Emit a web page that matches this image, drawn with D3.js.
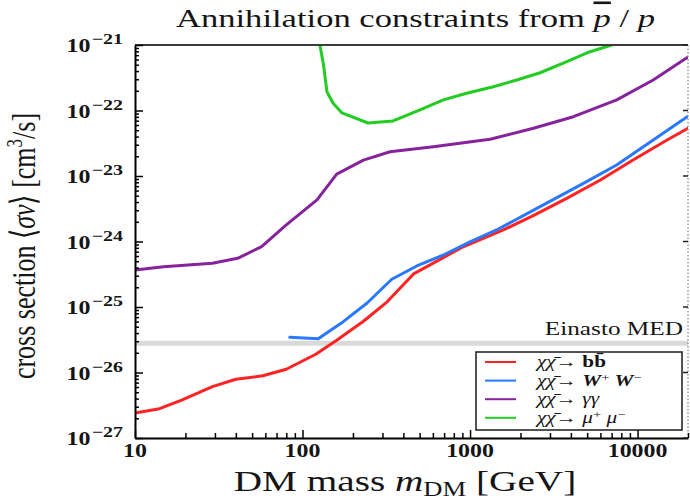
<!DOCTYPE html>
<html>
<head>
<meta charset="utf-8">
<script src="https://cdn.jsdelivr.net/npm/d3@7/dist/d3.min.js"></script>
<style>
  body { margin: 0; background: #fff; }
  svg { display: block; }
  text { font-family: "Liberation Serif", "Times New Roman", serif; fill: #151515; }
</style>
</head>
<body>
<svg id="chart" width="690" height="500"></svg>
<script>
// Upper limits on <sigma v> (cm^3/s) versus DM mass (GeV), one pair of arrays per channel
const massBB  = [10, 14, 19, 29, 40, 58, 80, 120, 160, 230, 320, 460, 910, 1580, 2400, 3800, 6000, 9400, 15000, 20000];
const sigmaBB = [2.4e-27, 2.8e-27, 3.8e-27, 6.1e-27, 7.9e-27, 8.9e-27, 1.12e-26, 1.9e-26, 3.1e-26, 6.0e-26, 1.2e-25, 3.2e-25, 8.3e-25, 1.5e-24, 2.5e-24, 4.6e-24, 8.7e-24, 1.75e-23, 3.55e-23, 5.35e-23];

const massWW  = [84, 124, 175, 242, 341, 481, 693, 1000, 1440, 2620, 4750, 7500, 12400, 20000];
const sigmaWW = [3.44e-26, 3.28e-26, 5.97e-26, 1.14e-25, 2.65e-25, 4.23e-25, 6.22e-25, 9.9e-25, 1.5e-24, 3.4e-24, 7.7e-24, 1.47e-23, 3.55e-23, 8.2e-23];

const massGG  = [10, 14.8, 29, 41, 57, 80, 122, 160, 231, 333, 604, 1316, 2390, 4140, 7510, 12400, 20000];
const sigmaGG = [3.67e-25, 4.12e-25, 4.64e-25, 5.54e-25, 8.34e-25, 1.79e-24, 4.31e-24, 1.07e-23, 1.75e-23, 2.35e-23, 2.8e-23, 3.63e-23, 5.35e-23, 8.04e-23, 1.45e-22, 2.92e-22, 6.56e-22];

const massMM  = [127, 133.5, 140, 152, 172, 246, 347, 503, 693, 955, 1377, 1900, 2620, 3780, 5200, 7010];
const sigmaMM = [1e-21, 4.95e-22, 1.91e-22, 1.3e-22, 9.17e-23, 6.44e-23, 6.92e-23, 1.02e-22, 1.45e-22, 1.83e-22, 2.31e-22, 2.92e-22, 3.77e-22, 5.56e-22, 7.9e-22, 1e-21];

// Thermal-relic reference level for the Einasto MED setup
const einastoMED = 2.8e-26;
const einastoLabel = "Einasto MED";

const xTickValues = [10, 100, 1000, 10000];
const xTickLabels = ["10", "100", "1000", "10000"];
const yTickValues = [1e-27, 1e-26, 1e-25, 1e-24, 1e-23, 1e-22, 1e-21];
const yTickExponents = ["\u221227", "\u221226", "\u221225", "\u221224", "\u221223", "\u221222", "\u221221"];

const channelColors = ["#ff2323", "#2a78ff", "#86239c", "#22cc22"];

// ---------------------------------------------------------------
const svg = d3.select("#chart");
const plotL = 135, plotR = 688, plotT = 45, plotB = 438;
const x = d3.scaleLog().domain([10, 20000]).range([plotL, plotR]);
const y = d3.scaleLog().domain([1e-27, 1e-21]).range([plotB, plotT]);
const SX = 1.33; // glyphs are set horizontally widened

// text helper: widened glyphs anchored at (px, py)
function label(px, py, anchor, size, weight) {
  return svg.append("text")
    .attr("transform", `translate(${px},${py}) scale(${SX},1)`)
    .attr("text-anchor", anchor)
    .attr("font-size", size)
    .attr("font-weight", weight || "normal");
}

// minor tick positions on a log axis
function logTicks(lo, hi) {
  const out = [];
  for (let d = Math.floor(Math.log10(lo)); d <= Math.ceil(Math.log10(hi)); d++) {
    for (let k = 1; k <= 9; k++) {
      const v = k * Math.pow(10, d);
      if (v >= lo * 0.9999 && v <= hi * 1.0001) out.push(v);
    }
  }
  return out;
}
const isDecade = v => Math.abs(Math.log10(v) - Math.round(Math.log10(v))) < 1e-9;

// clip region for curves
svg.append("defs").append("clipPath").attr("id", "plotClip")
  .append("rect").attr("x", plotL).attr("y", plotT).attr("width", plotR - plotL).attr("height", plotB - plotT);

// Einasto MED band
svg.append("line")
  .attr("x1", plotL).attr("x2", plotR)
  .attr("y1", y(einastoMED)).attr("y2", y(einastoMED))
  .attr("stroke", "#d9d9d9").attr("stroke-width", 5);

label(plotR - 5, y(einastoMED) - 8, "end", 19).text(einastoLabel);

// channel curves
const series = [
  { m: massBB, s: sigmaBB },
  { m: massWW, s: sigmaWW },
  { m: massGG, s: sigmaGG },
  { m: massMM, s: sigmaMM }
];
const line = d3.line().x(d => x(d[0])).y(d => y(d[1])).curve(d3.curveLinear);
const curves = svg.append("g").attr("clip-path", "url(#plotClip)");
series.forEach((sr, i) => {
  curves.append("path")
    .datum(sr.m.map((m, j) => [m, sr.s[j]]))
    .attr("d", line)
    .attr("fill", "none")
    .attr("stroke", channelColors[i])
    .attr("stroke-width", 3)
    .attr("stroke-linejoin", "round")
    .attr("stroke-linecap", "round");
});

// frame
const frame = svg.append("g");
frame.append("line").attr("x1", plotL).attr("x2", plotR).attr("y1", plotT).attr("y2", plotT)
  .attr("stroke", "#3a3a3a").attr("stroke-width", 2);
frame.append("line").attr("x1", plotR).attr("x2", plotR).attr("y1", plotT).attr("y2", plotB)
  .attr("stroke", "#9a9a9a").attr("stroke-width", 1.5).attr("stroke-dasharray", "1.5,2");

// bottom axis, ticks pointing inward
const xAxis = d3.axisBottom(x)
  .tickValues(logTicks(10, 20000))
  .tickFormat("")
  .tickSizeOuter(0)
  .tickSizeInner(-5);
const gx = svg.append("g").attr("transform", `translate(0,${plotB})`).call(xAxis);
gx.select(".domain").attr("stroke", "#000").attr("stroke-width", 2);
gx.selectAll(".tick line")
  .attr("stroke", "#000").attr("stroke-width", 1.5)
  .attr("y2", d => (isDecade(d) ? -8 : -5));

// left axis, ticks pointing inward
const yAxis = d3.axisLeft(y)
  .tickValues(logTicks(1e-27, 1e-21))
  .tickFormat("")
  .tickSizeOuter(0)
  .tickSizeInner(-4);
const gy = svg.append("g").attr("transform", `translate(${plotL},0)`).call(yAxis);
gy.select(".domain").attr("stroke", "#000").attr("stroke-width", 2);
gy.selectAll(".tick line")
  .attr("stroke", "#000").attr("stroke-width", 1.5)
  .attr("x2", d => (isDecade(d) ? 8 : 4));

// right axis major ticks
svg.append("g").selectAll("line").data(yTickValues).join("line")
  .attr("x1", plotR).attr("x2", plotR - 5)
  .attr("y1", d => y(d)).attr("y2", d => y(d))
  .attr("stroke", "#222").attr("stroke-width", 1.5);

// x tick labels
xTickValues.forEach((v, i) => {
  label(x(v), 457, "middle", 18, "bold").text(xTickLabels[i]);
});

// y tick labels: 10 with superscript exponent
yTickValues.forEach((v, i) => {
  const t = label(plotL - 12, y(v) + 7, "end", 18, "bold");
  t.append("tspan").text("10");
  t.append("tspan").attr("dy", -8).attr("dx", 1).attr("font-size", 15).text(yTickExponents[i]);
});

// title
{
  const t = label((plotL + plotR) / 2 + 4, 27, "middle", 26);
  t.append("tspan").text("Annihilation constraints from ");
  t.append("tspan").attr("font-style", "italic").attr("text-decoration", "overline").text("p");
  t.append("tspan").text(" / ");
  t.append("tspan").attr("font-style", "italic").text("p");
}

// x axis title
{
  const t = label(405, 491, "middle", 29.5);
  t.append("tspan").text("DM mass ");
  t.append("tspan").attr("font-style", "italic").text("m");
  t.append("tspan").attr("font-size", 20).attr("dy", 5).text("DM");
  t.append("tspan").attr("dy", -5).text(" [GeV]");
}

// y axis title (rotated)
{
  const t = svg.append("text")
    .attr("transform", `translate(35,246) scale(${SX},1) rotate(-90)`)
    .attr("text-anchor", "middle")
    .attr("font-size", 26);
  t.append("tspan").text("cross section \u27E8");
  t.append("tspan").attr("font-style", "italic").text("\u03C3v");
  t.append("tspan").text("\u27E9 [cm");
  t.append("tspan").attr("font-size", 17).attr("dy", -10).text("3");
  t.append("tspan").attr("dy", 10).text("/s]");
}

// legend
const legX = 476, legY = 352, legW = 206, legH = 78;
svg.append("rect")
  .attr("x", legX).attr("y", legY).attr("width", legW).attr("height", legH)
  .attr("fill", "#fff").attr("stroke", "#1a1a1a").attr("stroke-width", 1.5);

const legendRows = [
  [{ t: "b", b: true }, { t: "b\u0304", b: true }],
  [{ t: "W", b: true, i: true }, { t: "+", sup: true }, { t: " W", b: true, i: true }, { t: "\u2212", sup: true }],
  [{ t: "\u03B3\u03B3", i: true }],
  [{ t: "\u03BC", i: true }, { t: "+", sup: true }, { t: " \u03BC", i: true }, { t: "\u2212", sup: true }]
];
legendRows.forEach((parts, i) => {
  const ry = legY + 10 + i * 18.6;
  svg.append("line")
    .attr("x1", legX + 9).attr("x2", legX + 40)
    .attr("y1", ry).attr("y2", ry)
    .attr("stroke", channelColors[i]).attr("stroke-width", 2);
  const t = label(legX + 61, ry + 5, "start", 16);
  t.append("tspan").attr("font-style", "italic").text("\u03C7\u03C7\u0304");
  t.append("tspan").text("\u2192 ");
  let raised = false;
  parts.forEach(p => {
    const s = t.append("tspan").text(p.t);
    if (p.b) s.attr("font-weight", "bold");
    if (p.i) s.attr("font-style", "italic");
    if (p.sup) { s.attr("font-size", 11).attr("dy", -5); raised = true; }
    else if (raised) { s.attr("dy", 5); raised = false; }
  });
});
</script>
</body>
</html>
